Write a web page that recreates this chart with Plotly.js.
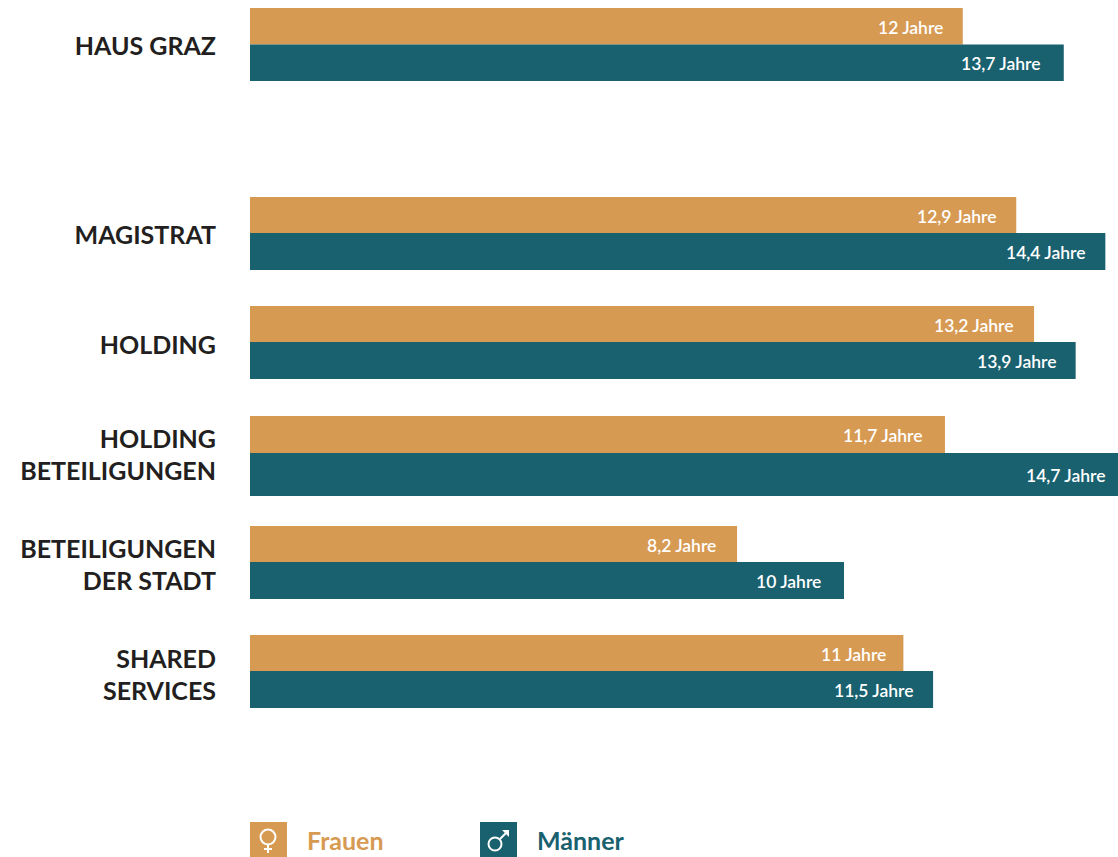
<!DOCTYPE html>
<html><head><meta charset="utf-8">
<script src="https://cdn.plot.ly/plotly-3.0.1.min.js"></script>
<style>html,body{margin:0;padding:0;background:#fff;overflow:hidden}#c{width:1118px;height:857px}</style>
</head><body><div id="c"></div>
<script>
const categories = ["HAUS GRAZ","MAGISTRAT","HOLDING","HOLDING<br>BETEILIGUNGEN","BETEILIGUNGEN<br>DER STADT","SHARED<br>SERVICES"];
const frauen = [12, 12.9, 13.2, 11.7, 8.2, 11];
const maenner = [13.7, 14.4, 13.9, 14.7, 10, 11.5];
const frauenLabels = ["12 Jahre","12,9 Jahre","13,2 Jahre","11,7 Jahre","8,2 Jahre","11 Jahre"];
const maennerLabels = ["13,7 Jahre","14,4 Jahre","13,9 Jahre","14,7 Jahre","10 Jahre","11,5 Jahre"];
const rows = [44.5, 233, 342, 453, 562, 671];
const tickRows = [46, 235, 345, 455, 565, 675];
const frauenHeight = [36.5, 36, 36, 37, 36, 36];
const maennerHeight = [36.5, 37, 37, 43, 37, 37];
const frauenGap = [18, 17, 18, 20, 19, 15];
const maennerGap = [21, 17, 17, 9, 21, 17];

const ORANGE = "#D79A53", TEAL = "#19616F";
const FONT = "Lato, 'Noto Sans', sans-serif";
const AXIS_MAX = 14.613;

const traces = [
  {type:"bar", orientation:"h", name:"Frauen", x:frauen, y:rows, width:frauenHeight,
   offset:frauenHeight.map(h=>-h), marker:{color:ORANGE,line:{width:0}}, hoverinfo:"skip"},
  {type:"bar", orientation:"h", name:"Männer", x:maenner, y:rows, width:maennerHeight,
   offset:0, marker:{color:TEAL,line:{width:0}}, hoverinfo:"skip"}
];

const valueFont = {family:FONT, size:17.5, color:"#ffffff", weight:600};
const annotations = [];
rows.forEach((r,i)=>{
  annotations.push({x:frauen[i], y:r-frauenHeight[i]/2, xref:"x", yref:"y", text:frauenLabels[i], showarrow:false,
    xanchor:"right", yanchor:"middle", xshift:-frauenGap[i], yshift:-1, font:valueFont});
  annotations.push({x:Math.min(maenner[i],AXIS_MAX-0.01), y:r+maennerHeight[i]/2, xref:"x", yref:"y", text:maennerLabels[i], showarrow:false,
    xanchor:"right", yanchor:"middle", xshift:-maennerGap[i], yshift:-1, font:valueFont});
});
const legendFont = {family:FONT, size:25, weight:700};
const px = v => (v-250)/868;
function legendText(x, text, color){
  return {x:px(x), y:840, xref:"paper", yref:"y", text:text, showarrow:false, xanchor:"left", yanchor:"middle",
          font:Object.assign({},legendFont,{color:color})};
}
annotations.push(legendText(305,"Frauen",ORANGE), legendText(535,"Männer",TEAL));

const whiteLine = {color:"#ffffff", width:2};
function line(x0,y0,x1,y1){ return {type:"line", xref:"paper", yref:"y", x0:px(x0), x1:px(x1), y0, y1, line:whiteLine}; }
function ring(cx,cy,r){ return {type:"circle", xref:"paper", yref:"y", x0:px(cx-r), x1:px(cx+r), y0:cy-r, y1:cy+r, line:whiteLine, fillcolor:"rgba(0,0,0,0)"}; }
const shapes = [
  {type:"rect", xref:"paper", yref:"y", x0:px(250), x1:px(287), y0:822, y1:857, fillcolor:ORANGE, line:{width:0}},
  {type:"rect", xref:"paper", yref:"y", x0:px(480), x1:px(517), y0:822, y1:857, fillcolor:TEAL, line:{width:0}},
  ring(268,837,7.5), line(268,845,268,853), line(264,849,272,849),
  ring(495,844,6.5), line(500,839,507,832),
  {type:"path", xref:"paper", yref:"y", path:`M ${px(502)} 830 L ${px(509)} 830 L ${px(509)} 837 Z`, fillcolor:"#ffffff", line:{width:0}}
];

const layout = {
  width:1118, height:857, margin:{l:250,r:0,t:0,b:0}, paper_bgcolor:"#fff", plot_bgcolor:"#fff",
  showlegend:false, barmode:"overlay", annotations, shapes,
  xaxis:{range:[0,AXIS_MAX], showgrid:false, zeroline:false, showline:false, showticklabels:false, ticks:""},
  yaxis:{range:[857,0], showgrid:false, zeroline:false, showline:false, tickmode:"array", tickvals:tickRows, ticktext:categories,
    ticks:"outside", ticklen:28, tickcolor:"rgba(0,0,0,0)", tickwidth:1,
    tickfont:{family:FONT, size:25, color:"#231F20", weight:700}}
};
Plotly.newPlot("c", traces, layout, {displayModeBar:false, staticPlot:true});
</script></body></html>
